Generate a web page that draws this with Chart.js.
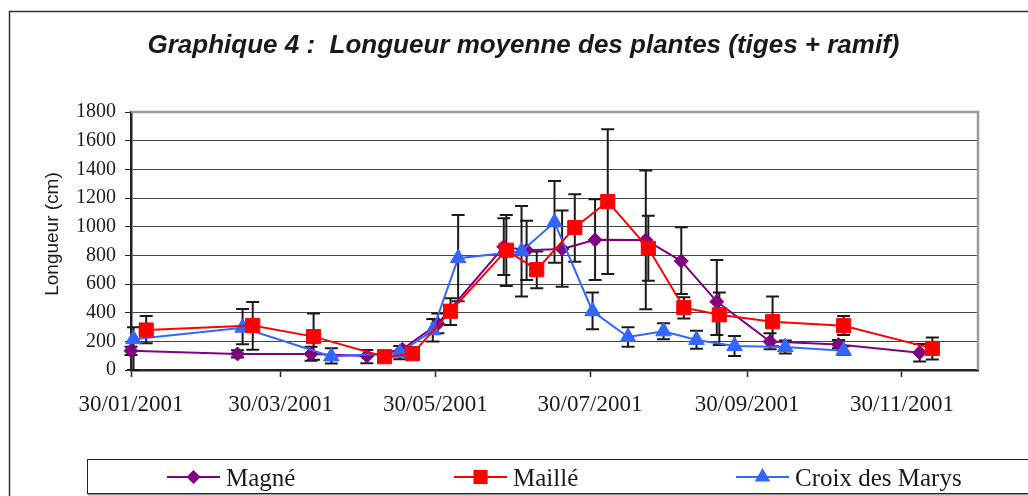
<!DOCTYPE html>
<html>
<head>
<meta charset="utf-8">
<title>Graphique 4 : Longueur moyenne des plantes</title>
<script src="https://cdn.jsdelivr.net/npm/chart.js@4.4.0/dist/chart.umd.min.js"></script>
<style>
  body { margin: 0; background: #fff; }
  canvas { display: block; }
</style>
</head>
<body>
<canvas id="chart" width="1028" height="496"></canvas>
<script>
// sampling dates (dd/mm/yyyy), mean length (cm) and error bar ends per site
const magneDates = ['30/01/2001', '13/03/2001', '11/04/2001', '03/05/2001', '17/05/2001', '31/05/2001', '26/06/2001', '05/07/2001',
  '19/07/2001', '01/08/2001', '21/08/2001', '04/09/2001', '18/09/2001', '09/10/2001', '05/11/2001', '07/12/2001'];
const magneMean = [135, 112, 112, 98, 144, 323, 860, 836, 845, 908, 907, 760, 477, 198, 178, 121];
const magneLow  = [105, 88, 65, 47, 120, 256, 663, 628, 581, 628, 423, 530, 244, 144, 151, 60];
const magneHigh = [163, 138, 163, 140, 168, 395, 1058, 1042, 1112, 1191, 1391, 996, 768, 256, 209, 181];

const mailleDates = ['05/02/2001', '19/03/2001', '12/04/2001', '10/05/2001', '21/05/2001', '05/06/2001', '27/06/2001', '09/07/2001',
  '24/07/2001', '06/08/2001', '22/08/2001', '05/09/2001', '19/09/2001', '10/10/2001', '07/11/2001', '12/12/2001'];
const mailleMean = [279, 310, 233, 93, 114, 410, 836, 700, 994, 1175, 849, 435, 385, 337, 309, 151];
const mailleLow  = [186, 142, 71, 80, 98, 314, 586, 570, 756, 670, 623, 360, 174, 165, 244, 74];
const mailleHigh = [377, 474, 395, 106, 130, 500, 1082, 826, 1226, 1680, 1077, 507, 540, 512, 377, 226];

const croixDates = ['31/01/2001', '15/03/2001', '19/04/2001', '16/05/2001', '29/05/2001', '08/06/2001', '03/07/2001', '16/07/2001',
  '31/07/2001', '14/08/2001', '28/08/2001', '10/09/2001', '25/09/2001', '15/10/2001', '07/11/2001'];
const croixMean = [215, 295, 95, 120, 277, 780, 828, 1030, 410, 230, 270, 210, 167, 160, 135];
const croixLow  = [0, 179, 45, 75, 198, 480, 512, 749, 284, 163, 214, 148, 98, 115, 105];
const croixHigh = [298, 426, 151, 167, 356, 1082, 1144, 1319, 540, 298, 326, 274, 237, 205, 165];

const tickLabels = ['30/01/2001', '30/03/2001', '30/05/2001', '30/07/2001', '30/09/2001', '30/11/2001'];
const axisEnd = '30/12/2001';

function toDay(s) {
  const p = s.split('/');
  return (Date.UTC(+p[2], +p[1] - 1, +p[0]) - Date.UTC(2001, 0, 30)) / 86400000;
}
const tickDays = tickLabels.map(toDay);

function points(dates, vals) {
  return dates.map((d, i) => ({ x: toDay(d), y: vals[i] }));
}

function series(label, color, style, radius, order, dates, mean, low, high) {
  return {
    label: label,
    data: points(dates, mean),
    errLow: low,
    errHigh: high,
    borderColor: color,
    backgroundColor: color,
    borderWidth: 2,
    pointStyle: style,
    pointRadius: radius,
    pointBackgroundColor: color,
    pointBorderColor: color,
    pointBorderWidth: 1,
    tension: 0,
    order: order,
    clip: false
  };
}

function marker(ctx, style, x, y, r, color) {
  ctx.fillStyle = color;
  ctx.beginPath();
  if (style === 'rectRot') {
    ctx.moveTo(x, y - r); ctx.lineTo(x + r, y); ctx.lineTo(x, y + r); ctx.lineTo(x - r, y);
  } else if (style === 'rect') {
    const h = r * Math.SQRT1_2;
    ctx.rect(x - h, y - h, 2 * h, 2 * h);
  } else {
    ctx.moveTo(x, y - r); ctx.lineTo(x + r * 0.866, y + r / 2); ctx.lineTo(x - r * 0.866, y + r / 2);
  }
  ctx.closePath();
  ctx.fill();
}

// vertical error bars with caps, under the markers
const errorBars = {
  id: 'errorBars',
  beforeDatasetsDraw(chart) {
    const ctx = chart.ctx, xs = chart.scales.x, ys = chart.scales.y;
    ctx.save();
    ctx.strokeStyle = '#1a1a1a';
    ctx.lineWidth = 2;
    chart.data.datasets.forEach(ds => {
      ds.data.forEach((p, i) => {
        const x = xs.getPixelForValue(p.x);
        const y1 = ys.getPixelForValue(ds.errLow[i]);
        const y2 = ys.getPixelForValue(ds.errHigh[i]);
        ctx.beginPath();
        ctx.moveTo(x, y1); ctx.lineTo(x, y2);
        ctx.moveTo(x - 6.5, y1); ctx.lineTo(x + 6.5, y1);
        ctx.moveTo(x - 6.5, y2); ctx.lineTo(x + 6.5, y2);
        ctx.stroke();
      });
    });
    ctx.restore();
  }
};

// title, axis title, frames and the boxed legend
const decor = {
  id: 'decor',
  afterDraw(chart) {
    const ctx = chart.ctx, a = chart.chartArea;
    ctx.save();

    ctx.strokeStyle = '#333';
    ctx.lineWidth = 1.5;
    ctx.beginPath();
    ctx.moveTo(9.5, 496); ctx.lineTo(9.5, 11.5); ctx.lineTo(1028, 11.5);
    ctx.stroke();

    ctx.strokeStyle = '#9a9a9a';
    ctx.lineWidth = 2.5;
    ctx.beginPath();
    ctx.moveTo(a.left, a.top); ctx.lineTo(a.right, a.top); ctx.lineTo(a.right, a.bottom);
    ctx.stroke();

    ctx.fillStyle = '#1a1a1a';
    ctx.font = 'italic bold 26px "Liberation Sans", Arial, sans-serif';
    ctx.textAlign = 'center';
    ctx.textBaseline = 'alphabetic';
    ctx.fillText('Graphique 4 :  Longueur moyenne des plantes (tiges + ramif)', 523.5, 53);

    ctx.save();
    ctx.translate(52.5, 234);
    ctx.rotate(-Math.PI / 2);
    ctx.font = '19px "Liberation Sans", Arial, sans-serif';
    ctx.textBaseline = 'middle';
    ctx.fillText('Longueur (cm)', 0, 0);
    ctx.restore();

    // legend box
    ctx.strokeStyle = '#999';
    ctx.lineWidth = 2;
    ctx.beginPath();
    ctx.moveTo(88, 494.5); ctx.lineTo(1028, 494.5);
    ctx.stroke();
    ctx.strokeStyle = '#222';
    ctx.lineWidth = 1;
    ctx.strokeRect(87.5, 459.5, 960, 34);

    const legendX = [167, 454, 736];
    ctx.font = '25px "Liberation Serif", "Times New Roman", serif';
    ctx.textAlign = 'left';
    chart.data.datasets.forEach((ds, i) => {
      const x = legendX[i], y = 477;
      ctx.strokeStyle = ds.borderColor;
      ctx.lineWidth = 2;
      ctx.beginPath();
      ctx.moveTo(x, y); ctx.lineTo(x + 53, y);
      ctx.stroke();
      marker(ctx, ds.pointStyle, x + 26.5, y, ds.pointRadius, ds.borderColor);
      ctx.fillStyle = '#1a1a1a';
      ctx.fillText(ds.label, x + 59, 486);
    });
    ctx.restore();
  }
};

new Chart(document.getElementById('chart'), {
  type: 'line',
  data: {
    datasets: [
      series('Magné', '#800080', 'rectRot', 7, 2, magneDates, magneMean, magneLow, magneHigh),
      series('Maillé', '#ff0000', 'rect', 10, 0, mailleDates, mailleMean, mailleLow, mailleHigh),
      series('Croix des Marys', '#3366ff', 'triangle', 9, 1, croixDates, croixMean, croixLow, croixHigh)
    ]
  },
  options: {
    responsive: false,
    animation: false,
    layout: { padding: { left: 9, right: 50, top: 112, bottom: 0 } },
    plugins: {
      legend: { display: false },
      title: { display: false },
      tooltip: { enabled: false }
    },
    scales: {
      x: {
        type: 'linear',
        min: 0,
        max: toDay(axisEnd),
        afterBuildTicks: s => { s.ticks = tickDays.map(v => ({ value: v })); },
        afterFit: s => { s.height = 126; },
        ticks: {
          callback: v => tickLabels[tickDays.indexOf(v)],
          autoSkip: false,
          maxRotation: 0,
          padding: 14,
          color: '#1a1a1a',
          font: { family: '"Liberation Serif", "Times New Roman", serif', size: 23 }
        },
        grid: { drawOnChartArea: false, tickLength: 7, tickColor: '#222', tickWidth: 1.5 },
        border: { color: '#222', width: 2.5 }
      },
      y: {
        min: 0,
        max: 1800,
        afterFit: s => { s.width = 122; },
        ticks: {
          stepSize: 200,
          padding: 9,
          callback: v => String(v),
          color: '#1a1a1a',
          font: { family: '"Liberation Serif", "Times New Roman", serif', size: 20 }
        },
        grid: { color: '#444', lineWidth: 1, tickLength: 6, tickColor: '#222' },
        border: { color: '#222', width: 2.5 }
      }
    }
  },
  plugins: [errorBars, decor]
});
</script>
</body>
</html>
